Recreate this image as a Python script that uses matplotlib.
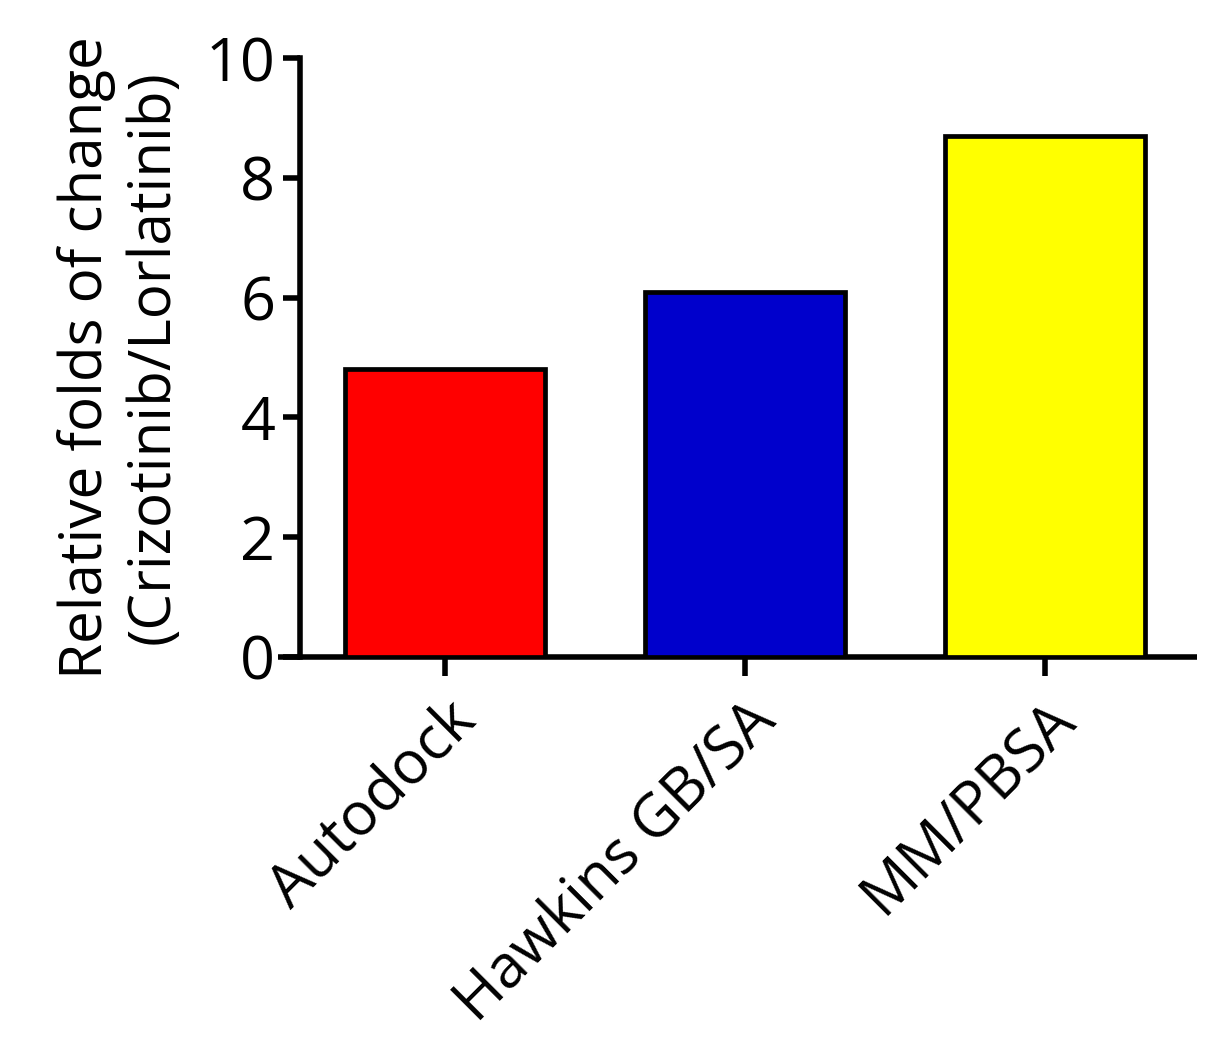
import numpy as np
import matplotlib.pyplot as plt

# data
methods = ['Autodock', 'Hawkins GB/SA', 'MM/PBSA']
folds = [4.8, 6.1, 8.7]
bar_colors = ['#FF0000', '#0000CC', '#FFFF00']
y_ticks = [0, 2, 4, 6, 8, 10]

plt.rcParams['font.family'] = ['Open Sans', 'DejaVu Sans']

fig = plt.figure(figsize=(12.2, 10.37), dpi=100)
ax = fig.add_axes([278 / 1220, 1 - 657 / 1037, (1197 - 278) / 1220, (657 - 58) / 1037])

x = np.arange(len(methods))
ax.bar(x, folds, width=0.667, color=bar_colors, edgecolor='black', linewidth=3.4, zorder=3)

ax.set_xlim(-0.557, 2.507)
ax.set_ylim(0, 10)
ax.set_yticks(y_ticks)
ax.set_xticks(x)
ax.set_xticklabels(methods, rotation=45, ha='right', rotation_mode='anchor', fontsize=43)

for s in ['top', 'right']:
    ax.spines[s].set_visible(False)
ax.spines['left'].set_position(('data', -0.483))
ax.spines['left'].set_linewidth(4.0)
ax.spines['bottom'].set_linewidth(4.0)
ax.spines['left'].set_capstyle('projecting')
ax.spines['bottom'].set_capstyle('butt')

ax.tick_params(axis='y', length=12, width=4.0, labelsize=44, pad=6)
ax.tick_params(axis='x', length=14, width=4.0, pad=10)

ax.set_ylabel('Relative folds of change\n(Crizotinib/Lorlatinib)', fontsize=42, linespacing=1.2, labelpad=16)

fig.savefig('out.png', dpi=100)
